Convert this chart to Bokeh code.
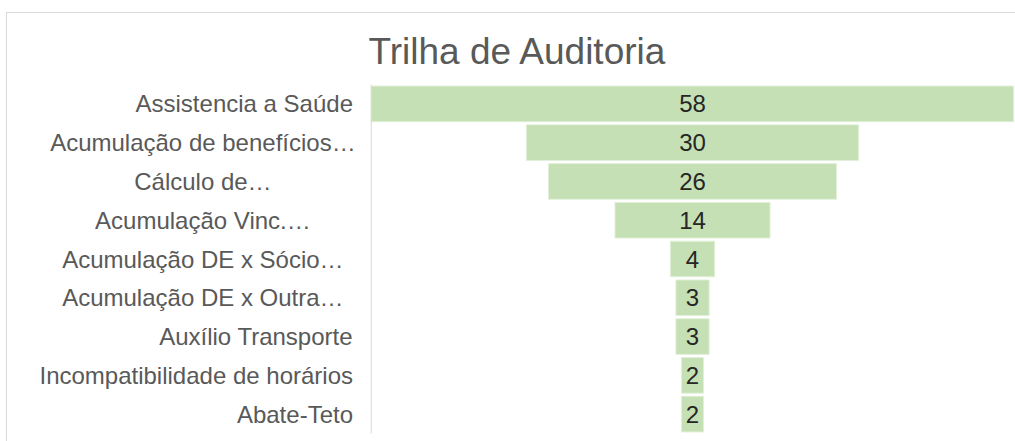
from bokeh.plotting import figure
from bokeh.models import Range1d, FactorRange, ColumnDataSource, Span
from bokeh.embed import file_html
from bokeh.resources import INLINE
from bokeh.core.properties import value

categories = [
    "Assistencia a Saúde",
    "Acumulação de benefícios…",
    "Cálculo de…",
    "Acumulação Vinc.…",
    "Acumulação DE x Sócio…",
    "Acumulação DE x Outra…",
    "Auxílio Transporte",
    "Incompatibilidade de horários",
    "Abate-Teto",
]
counts = [58, 30, 26, 14, 4, 3, 3, 2, 2]

# label placement (in value units, left of the axis): truncated labels are centred
LABEL_RIGHT = -30.65
LABEL_CENTER = -44.2
truncated = [c.endswith("…") for c in categories]

src = ColumnDataSource(dict(
    cat=categories,
    left=[-v / 2 for v in counts],
    right=[v / 2 for v in counts],
    x0=[0] * len(counts),
    lab=[str(v) for v in counts],
    lx=[LABEL_CENTER if t else LABEL_RIGHT for t in truncated],
    la=["center" if t else "right" for t in truncated],
))

p = figure(
    width=1008, height=428,
    y_range=FactorRange(factors=list(reversed(categories)), range_padding=0),
    x_range=Range1d(-61.84, 29.16),
    output_backend="svg", toolbar_location=None,
    x_axis_location=None, y_axis_location=None,
    min_border_left=0, min_border_right=0, min_border_top=71, min_border_bottom=8,
    title="Trilha de Auditoria",
    margin=(13, 0, 0, 7),
)
p.styles = {"outline": "1.5px solid #d9d9d9"}

p.title.text_font = "Liberation Sans"
p.title.text_font_size = "37px"
p.title.text_font_style = "normal"
p.title.text_color = "#595959"
p.title.align = "left"
p.title.offset = 361
p.title.standoff = 25

p.hbar(y="cat", left="left", right="right", height=0.92, source=src,
       fill_color="#c5e0b4", line_color="#e2f0d9", line_width=1)
p.text(x="x0", y="cat", text="lab", source=src, text_align="center",
       text_baseline="middle", text_font=value("Liberation Sans"),
       text_font_size="24px", text_color="#262626")
p.text(x="lx", y="cat", text="cat", source=src, text_align="la",
       text_baseline="middle", text_font=value("Liberation Sans"),
       text_font_size="24px", text_color="#595959")

p.add_layout(Span(location=-29.0, dimension="height", line_color="#d9d9d9", line_width=1))

p.xgrid.visible = False
p.ygrid.visible = False
p.outline_line_color = None

open("out.html", "w").write(file_html(p, INLINE))
